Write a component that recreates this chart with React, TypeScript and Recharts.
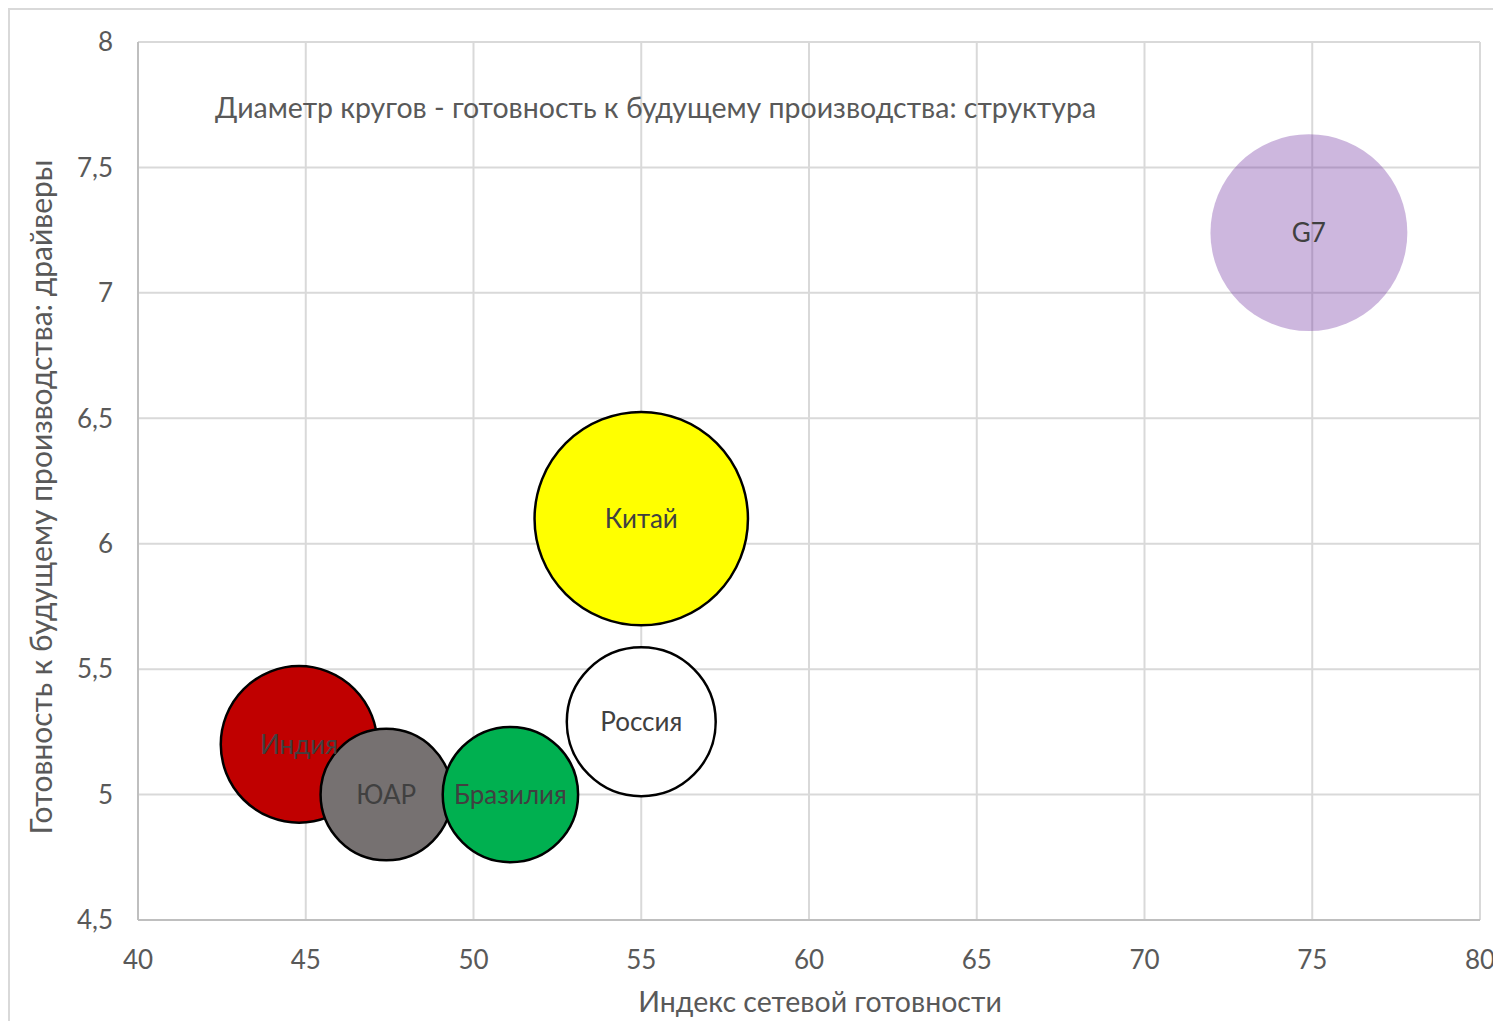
import React from "react";
import {
  ScatterChart,
  Scatter,
  XAxis,
  YAxis,
  ZAxis,
  CartesianGrid,
  Cell,
  LabelList,
  Label,
} from "recharts";

// Countries / groups, plotted in this order so later bubbles sit on top
const names = ["G7", "Китай", "Россия", "Индия", "ЮАР", "Бразилия"];
// Индекс сетевой готовности
const networkIndex = [74.9, 55.0, 55.0, 44.8, 47.4, 51.1];
// Готовность к будущему производства: драйверы
const drivers = [7.24, 6.1, 5.29, 5.2, 5.0, 5.0];
// Готовность к будущему производства: структура (bubble size)
const structure = [5.72, 6.3, 4.3, 4.5, 3.88, 3.97];

const xTicks = [40, 45, 50, 55, 60, 65, 70, 75, 80];
const yTicks = [4.5, 5, 5.5, 6, 6.5, 7, 7.5, 8];

const fills = ["#7030A0", "#FFFF00", "#FFFFFF", "#C00000", "#767171", "#00B050"];
const fillOpacity = [0.35, 1, 1, 1, 1, 1];
const strokes = ["none", "#000000", "#000000", "#000000", "#000000", "#000000"];

const data = names.map((name, i) => ({
  name,
  x: networkIndex[i],
  y: drivers[i],
  z: structure[i],
}));

const FONT = "Lato, 'Open Sans', sans-serif";
const TEXT = "#595959";

const fmtComma = (v: number) => String(v).replace(".", ",");

export default function App() {
  return (
    <div style={{ position: "relative", width: 1493, height: 1013, fontFamily: FONT }}>
      <div
        style={{
          position: "absolute",
          left: 0,
          top: 0,
          right: 0,
          bottom: 0,
          borderTop: "2px solid #D9D9D9",
          borderLeft: "2px solid #D9D9D9",
          pointerEvents: "none",
        }}
      />
      <ScatterChart
        width={1493}
        height={1013}
        margin={{ top: 34, right: 21, bottom: 41, left: 50 }}
      >
        <CartesianGrid stroke="#D9D9D9" strokeWidth={2} />
        <XAxis
          type="number"
          dataKey="x"
          domain={[40, 80]}
          ticks={xTicks}
          height={60}
          tickLine={false}
          tickMargin={25}
          axisLine={{ stroke: "#BFBFBF", strokeWidth: 2 }}
          tick={{ fill: TEXT, fontSize: 26, fontFamily: FONT }}
        >
          <Label
            content={({ viewBox }: any) => (
              <text
                x={viewBox.x + viewBox.width / 2 + 11}
                y={viewBox.y + 81}
                textAnchor="middle"
                dominantBaseline="central"
                fill={TEXT}
                fontSize={28.5}
                fontFamily={FONT}
              >
                Индекс сетевой готовности
              </text>
            )}
          />
        </XAxis>
        <YAxis
          type="number"
          dataKey="y"
          domain={[4.5, 8]}
          ticks={yTicks}
          width={80}
          tickLine={false}
          tickMargin={19}
          tickFormatter={fmtComma}
          axisLine={{ stroke: "#BFBFBF", strokeWidth: 2 }}
          tick={{ fill: TEXT, fontSize: 26, fontFamily: FONT }}
        >
          <Label
            content={({ viewBox }: any) => {
              const cx = viewBox.x - 18;
              const cy = viewBox.y + viewBox.height / 2 + 16;
              return (
                <text
                  x={cx}
                  y={cy}
                  transform={`rotate(-90 ${cx} ${cy})`}
                  textAnchor="middle"
                  dominantBaseline="central"
                  fill={TEXT}
                  fontSize={30}
                  fontFamily={FONT}
                >
                  Готовность к будущему производства: драйверы
                </text>
              );
            }}
          />
        </YAxis>
        <ZAxis
          type="number"
          dataKey="z"
          domain={[3.88, 6.3]}
          range={[13561, 35767]}
        />
        <Scatter data={data} isAnimationActive={false}>
          {data.map((d, i) => (
            <Cell
              key={d.name}
              fill={fills[i]}
              fillOpacity={fillOpacity[i]}
              stroke={strokes[i]}
              strokeWidth={2.5}
            />
          ))}
          <LabelList
            dataKey="name"
            position="center"
            fill="#404040"
            fontSize={26}
            fontFamily={FONT}
          />
        </Scatter>
      </ScatterChart>
      <div
        style={{
          position: "absolute",
          left: 207,
          top: 82,
          fontSize: 28.5,
          color: TEXT,
          whiteSpace: "nowrap",
        }}
      >
        Диаметр кругов - готовность к будущему производства: структура
      </div>
    </div>
  );
}
